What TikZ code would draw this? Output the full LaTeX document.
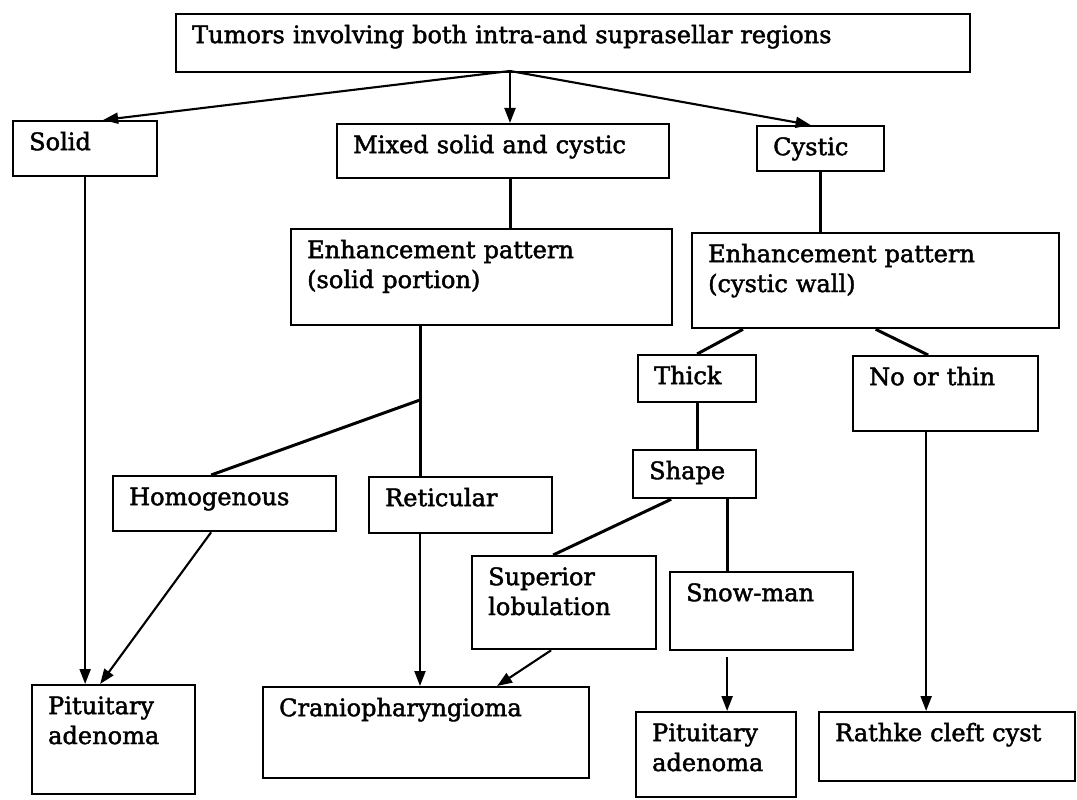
\documentclass[tikz,border=0pt]{standalone}
\usepackage{fontspec}
\setmainfont{DejaVu Serif}
\newfontfamily\diagfont{DejaVu Serif}[FakeBold=1.8]
\usetikzlibrary{arrows.meta,calc}

\tikzset{
  box/.style={draw, line width=1.3pt, anchor=north west, align=left,
    inner xsep=0.32cm, inner ysep=0pt, text height=0.58cm,
    font=\diagfont\fontsize{13.7}{17}\selectfont},
  link/.style={line width=1.7pt},
  arr/.style={line width=1.2pt, -{Triangle[length=0.3cm,width=0.22cm]}}
}

\begin{document}
\begin{tikzpicture}[x=0.02cm,y=-0.02cm]
  \path[use as bounding box, fill=white] (0,0) rectangle (1077,800);
  % first split
  \node[box, text width=15.24cm, text depth=0.58cm] (top) at (175,13) {Tumors involving both intra-and suprasellar regions};
  \node[box, text width=2.24cm, text depth=0.52cm] (solid) at (12,120) {Solid};
  \node[box, text width=6.00cm, text depth=0.50cm] (mixed) at (336,123) {Mixed solid and cystic};
  \node[box, text width=1.90cm, text depth=0.32cm] (cystic) at (756,125) {Cystic};
  % enhancement
  \node[box, text width=6.98cm, text depth=1.34cm] (enhS) at (290,228) {Enhancement pattern\\(solid portion)};
  \node[box, text width=6.70cm, text depth=1.32cm] (enhC) at (691,232) {Enhancement pattern\\(cystic wall)};
  \node[box, text width=1.72cm, text depth=0.36cm] (thick) at (637,354) {Thick};
  \node[box, text width=3.06cm, text depth=0.92cm] (nothin) at (852,355) {No or thin};
  \node[box, text width=1.82cm, text depth=0.38cm] (shape) at (632,449) {Shape};
  \node[box, text width=3.82cm, text depth=0.52cm] (homog) at (112,475) {Homogenous};
  \node[box, text width=3.02cm, text depth=0.54cm] (retic) at (368,476) {Reticular};
  \node[box, text width=3.04cm, text depth=1.28cm] (suplob) at (471,555) {Superior\\lobulation};
  \node[box, text width=3.02cm, text depth=0.98cm] (snow) at (669,571) {Snow-man};
  % diagnoses
  \node[box, text width=2.62cm, text depth=1.60cm] (pitL) at (31,684) {Pituitary\\adenoma};
  \node[box, text width=5.88cm, text depth=1.24cm] (cranio) at (262,686) {Craniopharyngioma};
  \node[box, text width=2.56cm, text depth=1.12cm] (pitR) at (635,711) {Pituitary\\adenoma};
  \node[box, text width=4.48cm, text depth=0.80cm] (rathke) at (818,711) {Rathke cleft cyst};

  \coordinate (fork) at (510,71);
  \coordinate (split) at (420,400);

  \draw[arr] (fork) -- ([xshift=0.36cm]solid.north);
  \draw[arr] (fork) -- (fork |- mixed.north);
  \draw[arr] (fork) -- ([xshift=-0.2cm]cystic.north);
  \draw[arr] (solid.south) -- (solid.south |- pitL.north);
  \draw[link] (fork |- mixed.south) -- (fork |- enhS.north);
  \draw[link] (cystic.south) -- (cystic.south |- enhC.north);
  \draw[link] (split |- enhS.south) -- (split) -- (split |- retic.north);
  \draw[link] (split) -- ([xshift=-0.27cm]homog.north);
  \draw[arr] (split |- retic.south) -- (split |- cranio.north);
  \draw[arr] ([xshift=-0.27cm]homog.south) -- ([xshift=-0.27cm]pitL.north);
  \draw[link] ([xshift=1.04cm]enhC.south west) -- (thick.north);
  \draw[link] (enhC.south) -- ([xshift=-0.35cm]nothin.north);
  \draw[link] (thick.south) -- (thick.south |- shape.north);
  \draw[link] ([xshift=-0.47cm]shape.south) -- ([xshift=-0.22cm]suplob.north);
  \draw[link] ([xshift=0.65cm]shape.south) -- ([xshift=0.65cm]shape.south |- snow.north);
  \draw[arr] ([xshift=-0.26cm]suplob.south) -- ([xshift=1.42cm]cranio.north);
  \draw[arr] ([xshift=-0.69cm,yshift=-0.12cm]snow.south) -- ([xshift=-0.69cm]snow.south |- pitR.north);
  \draw[arr] ([xshift=-0.39cm]nothin.south) -- ([xshift=-0.39cm]nothin.south |- rathke.north);
\end{tikzpicture}
\end{document}
